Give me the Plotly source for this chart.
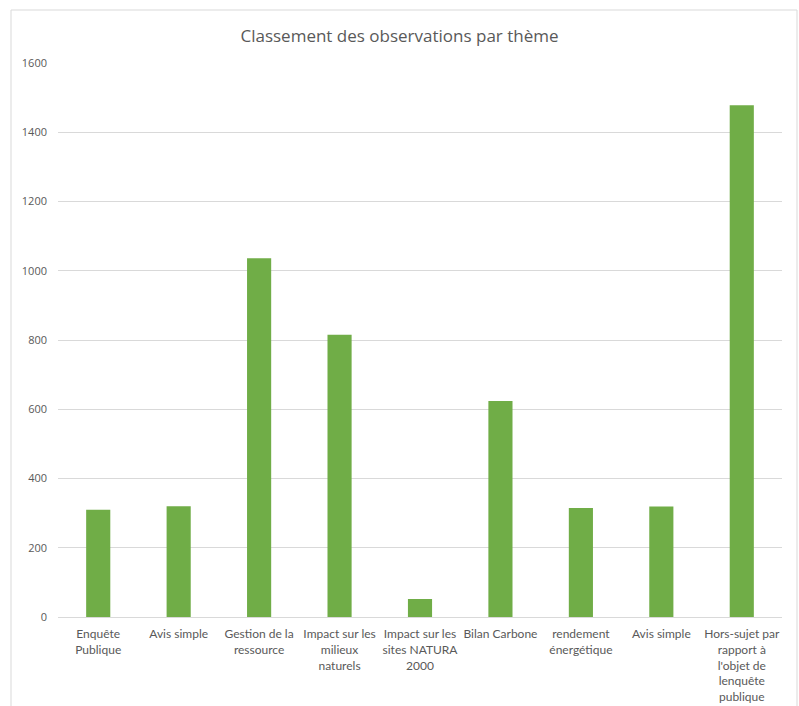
import plotly.graph_objects as go

categories = [
    "Enquête<br>Publique",
    "Avis simple",
    "Gestion de la<br>ressource",
    "Impact sur les<br>milieux<br>naturels",
    "Impact sur les<br>sites NATURA<br>2000",
    "Bilan Carbone",
    "rendement<br>énergétique",
    "Avis simple",
    "Hors-sujet par<br>rapport à<br>l'objet de<br>lenquête<br>publique",
]
values = [310, 320, 1036, 815, 52, 624, 315, 319, 1478]
y_ticks = [0, 200, 400, 600, 800, 1000, 1200, 1400, 1600]

positions = list(range(len(categories)))

fig = go.Figure()
fig.add_trace(go.Bar(
    x=positions,
    y=values,
    marker=dict(color="#70ad47", line=dict(width=0)),
    hoverinfo="y",
))

W, H = 799, 706
ml, mr, mt, mb = 58, 17, 63, 89
pw = W - ml - mr
ph = H - mt - mb

def px_x(p):
    return (p - ml) / pw

def px_y(p):
    return (H - mb - p) / ph

fig.add_shape(type="rect", xref="paper", yref="paper",
              x0=px_x(11), x1=px_x(797), y0=px_y(740), y1=px_y(10),
              line=dict(color="#d9d9d9", width=1), fillcolor="rgba(0,0,0,0)",
              layer="below")

fig.update_layout(
    width=W, height=H,
    margin=dict(l=ml, r=mr, t=mt, b=mb, autoexpand=False),
    paper_bgcolor="white",
    plot_bgcolor="white",
    bargap=0.7,
    showlegend=False,
    font=dict(family="Open Sans, Lato, sans-serif", color="#595959", size=11),
    title=dict(text="Classement des observations par thème",
               x=0.5, xref="container", y=1 - 36 / H, yref="container",
               xanchor="center", yanchor="middle",
               font=dict(size=17, color="#595959")),
    xaxis=dict(
        tickmode="array", tickvals=positions, ticktext=categories,
        range=[-0.5, len(categories) - 0.5],
        showgrid=False, showline=True, linecolor="#d9d9d9", linewidth=1,
        ticks="", zeroline=False, tickangle=0, automargin=False,
        ticklabelstandoff=6,
        tickfont=dict(size=12, family="Lato, Open Sans, sans-serif", color="#595959"),
    ),
    yaxis=dict(
        range=[0, 1600], tickmode="array", tickvals=y_ticks,
        showgrid=True, gridcolor="#d9d9d9", gridwidth=1,
        zeroline=False, showline=False, ticks="", automargin=False,
        ticklabelstandoff=10,
        tickfont=dict(size=11, color="#595959"),
    ),
)

fig.write_html("out.html")
